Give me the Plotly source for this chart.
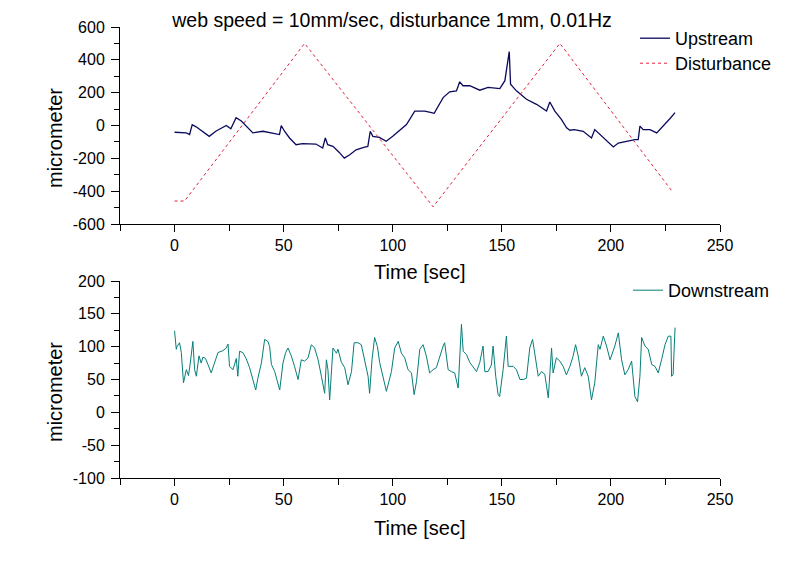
import plotly.graph_objects as go

# ---------------- data ----------------
up_t = [0, 5.4, 6.9, 8.1, 9.9, 12.9, 15.9, 18.9, 23.7, 25.8, 28.2, 30.6, 33.6, 35.9, 40.5, 45,
        48.1, 48.9, 50.4, 52.7, 55.7, 58.7, 61.8, 64.8, 67.9, 69.1, 70.2, 72.6, 75.5, 77.8, 80.3,
        83.2, 87.1, 88.6, 89.7, 90.9, 93.9, 97, 100, 103.1, 106.3, 110.1, 114.7, 117.8, 119,
        123.1, 126.1, 129.2, 130.7, 132.2, 135.3, 139.9, 143.7, 149.1, 151.4, 153.4, 154,
        156.7, 161.3, 165.9, 170.5, 172, 174.3, 177.3, 179.7, 181.2, 183.2, 187.3, 191.1,
        192.6, 195.7, 198.8, 201.1, 203.4, 207.1, 211, 212.5, 213.3, 214.8, 217.9, 221, 224,
        227, 229.4]
up_v = [-41, -45, -55, 5, -8, -35, -66, -35, 0, -20, 47, 27, -14, -45, -35, -45,
        -55, 0, -35, -76, -117, -111, -111, -113, -137, -76, -117, -127, -164, -199, -178,
        -148, -131, -127, -35, -66, -72, -96, -66, -31, 6, 88, 88, 78, 74,
        170, 205, 211, 266, 242, 242, 215, 232, 225, 273, 450, 252,
        211, 160, 129, 88, 143, 88, 37, -14, -29, -25, -35, -76,
        -25, -66, -107, -131, -107, -96, -86, -86, -4, -25, -25, -45, -4,
        41, 78]

dist_t = [0, 4.6, 59.6, 118.5, 176.6, 228]
dist_v = [-460, -460, 500, -495, 500, -400]

down_t = [0, 0.8, 1.1, 2.3, 3.1, 4.1, 5.4, 6.4, 7.2, 8.4, 9.2, 10, 11.2, 12.2, 13, 14.2, 15.3,
          16.8, 18.3, 19.9, 22.2, 23.7, 24.5, 25.2, 26.8, 28.3, 29, 29.8, 31.3, 32.8, 34.4,
          35.9, 37.2, 38.2, 39.8, 41.3, 42.8, 43.6, 44.4, 45.9, 48.2, 49.7, 50.9, 52, 53.5,
          55, 56.6, 58.1, 59.6, 61.2, 62.7, 64.2, 65.8, 67.3, 68.8, 69.6, 70.3, 71.1, 72.6,
          74.2, 74.9, 76.5, 78, 79.5, 81.1, 82.3, 84.1, 85.6, 87.2, 88.7, 89.4, 90.5, 91.7,
          93, 94, 95.6, 97.1, 99.4, 100.9, 102.5, 104, 105.5, 107, 108.6, 109.8, 110.9,
          112.4, 113.9, 114.7, 115.4, 116.9, 118.5, 120, 121.5, 123.1, 123.8, 125.4, 126.9,
          128.4, 130, 130.7, 131.5, 132.3, 133.8, 135.3, 136.8, 138.4, 139.9, 141.4, 142.2,
          143.7, 145.2, 146, 147.2, 148.3, 149, 150.6, 152.1, 152.9, 155.2, 156.7, 158.3,
          159.8, 161.3, 162.8, 164.1, 165.1, 166.7, 168.2, 169.7, 171.3, 172.8, 173.5, 175,
          176.6, 178.1, 179.6, 181.2, 182.7, 183.8, 185, 186.5, 188, 189.6, 191.1, 192.6,
          194.2, 195, 196.5, 198, 199.6, 201.8, 203.4, 204.9, 206.4, 207.9, 209.5, 211,
          212.2, 213.3, 214.1, 215.6, 217.1, 218.7, 220.2, 221.7, 223.2, 224.8, 226.3,
          227.5, 227.8, 228.5, 229.4]
down_v = [124, 96, 100, 106, 91, 45, 65, 56, 75, 108, 65, 55, 86, 75, 84, 82, 73,
          60, 75, 91, 94, 98, 104, 70, 65, 82, 55, 93, 91, 82, 68,
          50, 34, 52, 75, 111, 108, 100, 73, 62, 34, 75, 91, 98, 86,
          70, 50, 80, 78, 83, 103, 98, 80, 55, 29, 80, 65, 19, 98,
          90, 96, 76, 68, 42, 62, 106, 106, 103, 80, 55, 29, 80, 114,
          100, 76, 55, 32, 62, 98, 108, 90, 83, 65, 60, 27, 47,
          96, 103, 95, 86, 60, 65, 68, 86, 101, 106, 65, 62,
          60, 37, 86, 134, 93, 88, 76, 70, 62, 76, 101, 62,
          62, 72, 101, 55, 27, 24, 65, 116, 70, 70, 65, 50,
          50, 52, 98, 111, 90, 55, 62, 58, 22, 98, 60, 83,
          78, 70, 57, 70, 86, 103, 86, 55, 68, 55, 19, 45,
          103, 96, 116, 101, 80, 101, 121, 80, 57, 65, 78, 24,
          16, 55, 114, 101, 96, 73, 70, 60, 80, 103, 116,
          116, 55, 57, 129]

x_ticks = [0, 50, 100, 150, 200, 250]
x_ticktext = ["0", "50", "100", "150", "200", "250"]
y1_ticks = [-600, -400, -200, 0, 200, 400, 600]
y1_ticktext = ["-600", "-400", "-200", "0", "200", "400", "600"]
y2_ticks = [-100, -50, 0, 50, 100, 150, 200]
y2_ticktext = ["-100", "-50", "0", "50", "100", "150", "200"]

title_text = "web speed = 10mm/sec, disturbance 1mm, 0.01Hz"

# ---------------- figure ----------------
FONT = "Arial, Liberation Sans, sans-serif"
OFF = 8  # page body margin
W, H = 800 - 2 * OFF, 562 - 2 * OFF
# plot-area edges in page pixels
PL, PR, PT, PB = 120, 720, 27, 478
ML, MR = PL - OFF, W - (PR - OFF)
MT, MB = PT - OFF, H - (PB - OFF)
PW, PH = PR - PL, PB - PT


def px_x(px):
    return (px - PL) / PW


def px_y(py):
    return (PB - py) / PH


fig = go.Figure()
fig.add_trace(go.Scatter(x=up_t, y=up_v, mode="lines", name="Upstream",
                         line=dict(color="#0a0a5c", width=1.3),
                         xaxis="x", yaxis="y", legend="legend"))
fig.add_trace(go.Scatter(x=dist_t, y=dist_v, mode="lines", name="Disturbance",
                         line=dict(color="#e0203c", width=1, dash="dot"),
                         xaxis="x", yaxis="y", legend="legend3"))
fig.add_trace(go.Scatter(x=down_t, y=down_v, mode="lines", name="Downstream",
                         line=dict(color="#067e78", width=1),
                         xaxis="x2", yaxis="y2", legend="legend2"))

axis_common = dict(showline=True, linecolor="black", linewidth=1, ticks="outside",
                   tickwidth=1, tickcolor="black", showgrid=False,
                   zeroline=False, mirror=False,
                   tickfont=dict(family=FONT, size=16, color="black"))

top_dom = [px_y(224), 1.0]
bot_dom = [0.0, px_y(281)]

leg_font = dict(family=FONT, size=18, color="black")

fig.update_layout(
    width=W, height=H,
    margin=dict(l=ML, r=MR, t=MT, b=MB),
    paper_bgcolor="white", plot_bgcolor="white",
    font=dict(family=FONT, color="black"),
    title=dict(text=title_text, x=(392 - OFF) / W, xref="container", xanchor="center",
               y=1 - (20 - OFF) / H, yref="container", yanchor="middle",
               font=dict(family=FONT, size=19.5, color="black")),
    xaxis=dict(domain=[0, 1], range=[-25, 250], anchor="y",
               tickmode="array", tickvals=x_ticks, ticktext=x_ticktext, ticklen=7,
               minor=dict(tickmode="linear", tick0=-25, dtick=50, ticks="outside",
                          ticklen=6, tickcolor="black"),
               ticklabelstandoff=0, **axis_common),
    yaxis=dict(domain=top_dom, range=[-600, 600], anchor="x",
               tickmode="array", tickvals=y1_ticks, ticktext=y1_ticktext, ticklen=8,
               minor=dict(tickmode="linear", tick0=-500, dtick=200, ticks="outside",
                          ticklen=5, tickcolor="black"),
               ticklabelstandoff=3, **axis_common),
    xaxis2=dict(domain=[0, 1], range=[-25, 250], anchor="y2",
                tickmode="array", tickvals=x_ticks, ticktext=x_ticktext, ticklen=7,
                minor=dict(tickmode="linear", tick0=-25, dtick=50, ticks="outside",
                           ticklen=6, tickcolor="black"),
                ticklabelstandoff=0, **axis_common),
    yaxis2=dict(domain=bot_dom, range=[-100, 200], anchor="x2",
                tickmode="array", tickvals=y2_ticks, ticktext=y2_ticktext, ticklen=8,
                minor=dict(tickmode="linear", tick0=-75, dtick=50, ticks="outside",
                           ticklen=5, tickcolor="black"),
                ticklabelstandoff=3, **axis_common),
    legend=dict(x=px_x(635), y=px_y(20), xanchor="left", yanchor="top",
                bgcolor="rgba(0,0,0,0)", font=leg_font),
    legend3=dict(x=px_x(635), y=px_y(45), xanchor="left", yanchor="top",
                 bgcolor="rgba(0,0,0,0)", font=leg_font),
    legend2=dict(x=px_x(628), y=px_y(272), xanchor="left", yanchor="top",
                 bgcolor="rgba(0,0,0,0)", font=leg_font),
    showlegend=True,
)

ann_font = dict(family=FONT, size=20, color="black")
fig.add_annotation(text="Time [sec]", x=px_x(420), y=px_y(272), xref="paper", yref="paper",
                   showarrow=False, xanchor="center", yanchor="middle", font=ann_font)
fig.add_annotation(text="Time [sec]", x=px_x(420), y=px_y(528), xref="paper", yref="paper",
                   showarrow=False, xanchor="center", yanchor="middle", font=ann_font)
fig.add_annotation(text="micrometer", x=px_x(55), y=px_y(138), xref="paper", yref="paper",
                   showarrow=False, xanchor="center", yanchor="middle", textangle=-90,
                   font=ann_font)
fig.add_annotation(text="micrometer", x=px_x(55), y=px_y(392), xref="paper", yref="paper",
                   showarrow=False, xanchor="center", yanchor="middle", textangle=-90,
                   font=ann_font)

fig.write_html("out.html")
